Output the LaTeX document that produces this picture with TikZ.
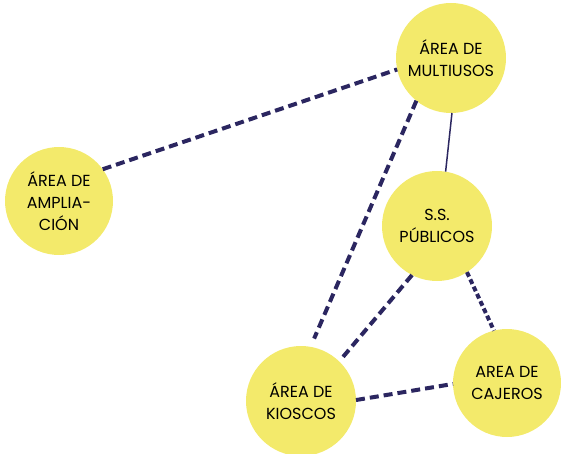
\documentclass[tikz,border=0pt]{standalone}
\usepackage{fontspec}
\setmainfont{Poppins}
\usepackage{tikz}

\definecolor{zona}{HTML}{F3EA6B}
\definecolor{enlace}{HTML}{2B2660}

\begin{document}
\begin{tikzpicture}[x=1pt, y=-1pt,
    % Define the style for the areas
    area/.style={
        circle, fill=zona, minimum size=110pt, inner sep=0pt, outer sep=0pt,
        align=center, font=\fontsize{16}{22}\selectfont
    },
    % Define the styles for the links
    fuerte/.style={draw=enlace, line width=4pt, dash pattern=on 9pt off 5pt},
    corto/.style={draw=enlace, line width=4pt, dash pattern=on 5pt off 3pt},
    fino/.style={draw=enlace, line width=1.5pt}
]

\useasboundingbox (0,0) rectangle (561,454);

% Place the areas
\node[area] (multi) at (451,58) {ÁREA DE\\MULTIUSOS};
\node[area, minimum size=108pt] (ampl) at (59,201) {ÁREA DE\\AMPLIA-\\CIÓN};
\node[area] (ss) at (437,226) {S.S.\\PÚBLICOS};
\node[area] (kiosco) at (301,401) {ÁREA DE\\KIOSCOS};
\node[area, minimum size=108pt] (cajero) at (507,383) {AREA DE\\CAJEROS};

% Draw the links
\draw[fuerte] (ampl.36) -- (multi.192);
\draw[fuerte, shorten >=9pt] (multi.231) -- (kiosco.80);
\draw[fino] (multi.271) -- (ss.81);
\draw[fuerte, shorten >=6pt] (ss.243) -- (kiosco.46);
\draw[corto] (ss.303) -- (cajero.104);
\draw[fuerte] (kiosco.1) -- (cajero.181);

\end{tikzpicture}
\end{document}
